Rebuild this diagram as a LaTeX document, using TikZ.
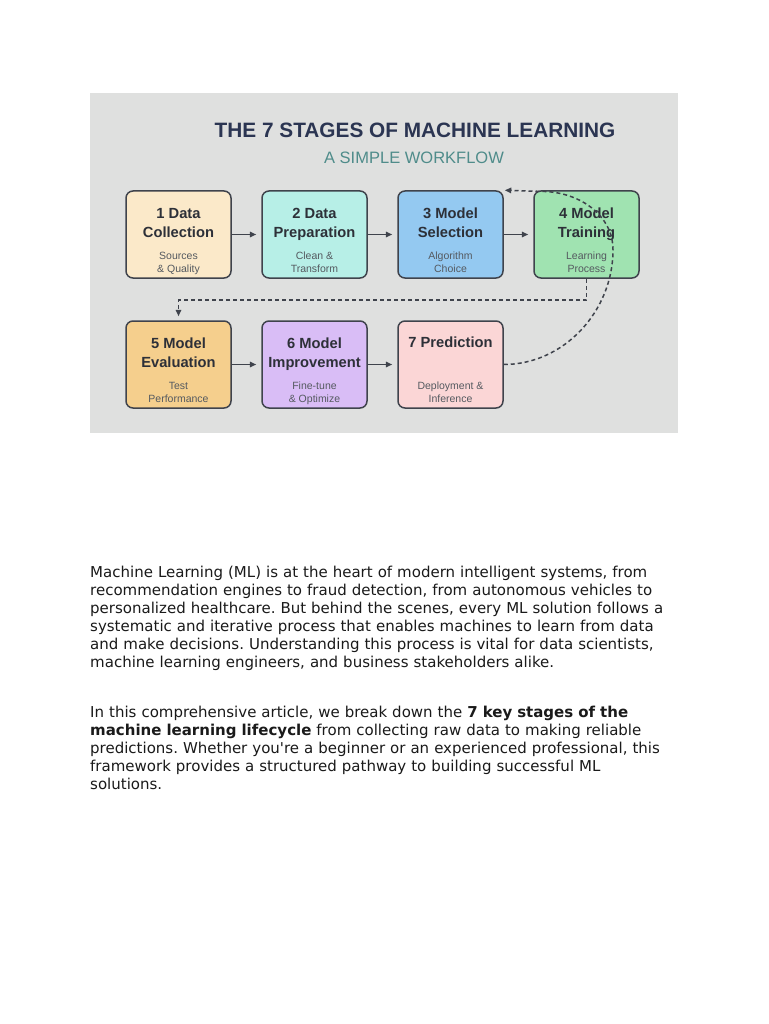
\documentclass[tikz,border=0pt]{standalone}
\usepackage{fontspec}
\setmainfont{DejaVu Sans}[Ligatures=TeXOff]
\newfontfamily\arialf{Liberation Sans}
\usetikzlibrary{arrows.meta}
\definecolor{panel}{RGB}{223,224,223}
\definecolor{edge}{RGB}{63,67,76}
\definecolor{titlec}{RGB}{43,53,82}
\definecolor{subc}{RGB}{79,140,138}
\definecolor{txtc}{RGB}{45,48,56}
\definecolor{smallc}{RGB}{85,90,96}
\definecolor{bodyc}{RGB}{26,26,26}
\definecolor{f1}{RGB}{251,233,201}
\definecolor{f2}{RGB}{183,239,231}
\definecolor{f3}{RGB}{148,201,241}
\definecolor{f4}{RGB}{160,227,177}
\definecolor{f5}{RGB}{245,207,141}
\definecolor{f6}{RGB}{217,189,246}
\definecolor{f7}{RGB}{251,214,214}
\tikzset{
  stagebox/.style={draw=edge, line width=1.5pt, rounded corners=7pt, minimum width=105pt, minimum height=87pt, inner sep=0pt},
  ttl/.style={font=\arialf\bfseries\fontsize{14.7}{19}\selectfont, text=txtc, align=center, inner sep=0pt},
  sub/.style={font=\arialf\fontsize{10.5}{13}\selectfont, text=smallc, align=center, inner sep=0pt},
  flow/.style={draw=edge, line width=1.5pt, -{Triangle[length=6.5pt,width=5.5pt]}, shorten >=5pt},
  loopback/.style={draw=edge, line width=1.5pt, dash pattern=on 4pt off 3pt, -{Triangle[length=6.5pt,width=5.5pt]}},
  body/.style={font=\frenchspacing\fontsize{15}{18}\selectfont, text=bodyc, text width=640pt, align=left, inner sep=0pt, anchor=north west}
}
\begin{document}
\begin{tikzpicture}[x=1pt,y=-1pt]
\useasboundingbox (0,0) rectangle (768,1024);
\fill[white] (0,0) rectangle (768,1024);
\fill[panel] (90,93) rectangle (678,433);

\node[font=\arialf\bfseries\fontsize{20.8}{24}\selectfont, text=titlec, inner sep=0pt] (title) at (415,130) {THE 7 STAGES OF MACHINE LEARNING};
\node[font=\arialf\fontsize{16.5}{20}\selectfont, text=subc, inner sep=0pt] (subtitle) at (414,158) {A SIMPLE WORKFLOW};

\node[stagebox, fill=f1] (b1) at (178.5,234.5) {};
\node[stagebox, fill=f2] (b2) at (314.5,234.5) {};
\node[stagebox, fill=f3] (b3) at (450.5,234.5) {};
\node[stagebox, fill=f4] (b4) at (586.5,234.5) {};
\node[stagebox, fill=f5] (b5) at (178.5,364.5) {};
\node[stagebox, fill=f6] (b6) at (314.5,364.5) {};
\node[stagebox, fill=f7] (b7) at (450.5,364.5) {};

\node[ttl] (t1) at ([yshift=-34pt]b1.north) {1 Data\\Collection\vphantom{p}};
\node[ttl] (t2) at ([yshift=-34pt]b2.north) {2 Data\\Preparation\vphantom{p}};
\node[ttl] (t3) at ([yshift=-34pt]b3.north) {3 Model\\Selection\vphantom{p}};
\node[ttl] (t4) at ([yshift=-34pt]b4.north) {4 Model\\Training\vphantom{p}};
\node[ttl] (t5) at ([yshift=-34pt]b5.north) {5 Model\\Evaluation\vphantom{p}};
\node[ttl] (t6) at ([yshift=-34pt]b6.north) {6 Model\\Improvement\vphantom{p}};
\node[ttl] (t7) at ([yshift=-22pt]b7.north) {7 Prediction};

\node[sub] (s1) at ([yshift=-73pt]b1.north) {Sources\\\& Quality\vphantom{y}};
\node[sub] (s2) at ([yshift=-73pt]b2.north) {Clean \&\\Transform\vphantom{y}};
\node[sub] (s3) at ([yshift=-73pt]b3.north) {Algorithm\\Choice\vphantom{y}};
\node[sub] (s4) at ([yshift=-73pt]b4.north) {Learning\\Process\vphantom{y}};
\node[sub] (s5) at ([yshift=-73pt]b5.north) {Test\\Performance\vphantom{y}};
\node[sub] (s6) at ([yshift=-73pt]b6.north) {Fine-tune\\\& Optimize\vphantom{y}};
\node[sub] (s7) at ([yshift=-73pt]b7.north) {Deployment \&\\Inference\vphantom{y}};

\draw[flow] (b1) -- (b2);
\draw[flow] (b2) -- (b3);
\draw[flow] (b3) -- (b4);
\draw[flow] (b5) -- (b6);
\draw[flow] (b6) -- (b7);

\draw[loopback, shorten >=4pt] (b4.south) -- ++(0,21) coordinate (c1) -| (b5.north);
\draw[loopback, shorten >=1pt] (b7.east) .. controls (564,364.5) and (613,311) .. (613,250)
  .. controls (613,215) and (580,193) .. (545,191.5) -- (b3.north east);

\node[body] (p1) at (90,565.5) {Machine Learning (ML) is at the heart of modern intelligent systems, from\\
recommendation engines to fraud detection, from autonomous vehicles to\\
personalized healthcare. But behind the scenes, every ML solution follows a\\
systematic and iterative process that enables machines to learn from data\\
and make decisions. Understanding this process is vital for data scientists,\\
machine learning engineers, and business stakeholders alike.};

\node[body] (p2) at (90,705.5) {In this comprehensive article, we break down the \textbf{7 key stages of the}\\
\textbf{machine learning lifecycle} from collecting raw data to making reliable\\
predictions. Whether you're a beginner or an experienced professional, this\\
framework provides a structured pathway to building successful ML\\
solutions.};
\end{tikzpicture}
\end{document}
